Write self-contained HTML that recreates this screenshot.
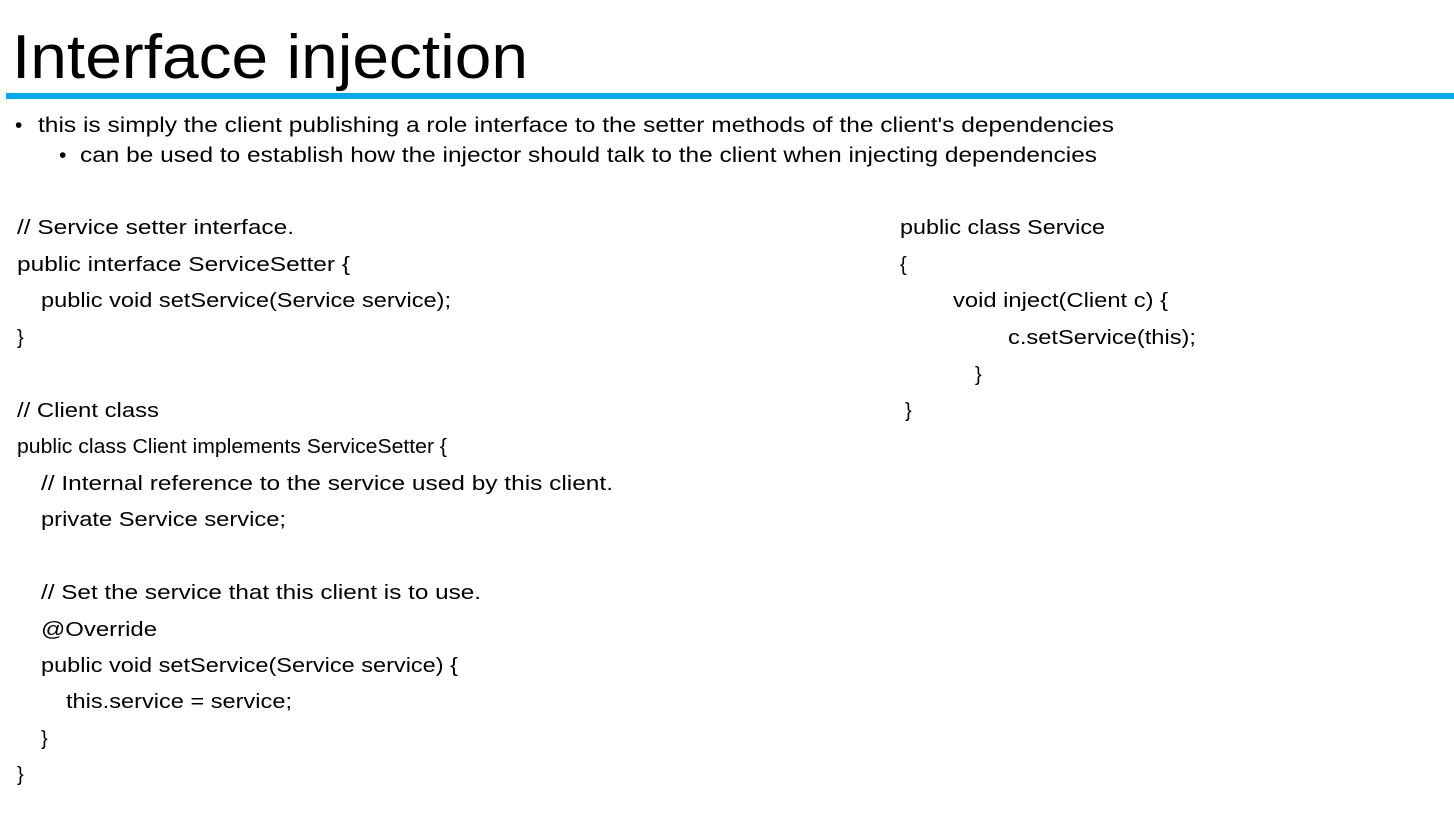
<!DOCTYPE html>
<html><head><meta charset="utf-8"><style>
html,body{margin:0;padding:0;background:#fff;width:1454px;height:817px;overflow:hidden}
text{font-family:"Liberation Sans",sans-serif;fill:#000}
</style></head><body>
<svg width="1454" height="817" viewBox="0 0 1454 817" xmlns="http://www.w3.org/2000/svg">
<text x="12" y="78" font-size="62" textLength="516" lengthAdjust="spacingAndGlyphs">Interface injection</text>
<rect x="6" y="93" width="1448" height="6" fill="#0aa8e8"/>
<g font-size="21">
<text x="15" y="132">•</text>
<text x="38" y="132" textLength="1076" lengthAdjust="spacingAndGlyphs">this is simply the client publishing a role interface to the setter methods of the client's dependencies</text>
<text x="59" y="162">•</text>
<text x="80" y="162" textLength="1017" lengthAdjust="spacingAndGlyphs">can be used to establish how the injector should talk to the client when injecting dependencies</text>
</g>
<g font-size="20" lengthAdjust="spacingAndGlyphs">
<text x="17" y="234" textLength="277" lengthAdjust="spacingAndGlyphs">// Service setter interface.</text>
<text x="17" y="271" textLength="333" lengthAdjust="spacingAndGlyphs">public interface ServiceSetter {</text>
<text x="41" y="307" textLength="410" lengthAdjust="spacingAndGlyphs">public void setService(Service service);</text>
<text x="17" y="344">}</text>
<text x="17" y="417" textLength="142" lengthAdjust="spacingAndGlyphs">// Client class</text>
<text x="17" y="453" textLength="430" lengthAdjust="spacingAndGlyphs">public class Client implements ServiceSetter {</text>
<text x="41" y="490" textLength="572" lengthAdjust="spacingAndGlyphs">// Internal reference to the service used by this client.</text>
<text x="41" y="526" textLength="245" lengthAdjust="spacingAndGlyphs">private Service service;</text>
<text x="41" y="599" textLength="440" lengthAdjust="spacingAndGlyphs">// Set the service that this client is to use.</text>
<text x="41" y="636" textLength="116" lengthAdjust="spacingAndGlyphs">@Override</text>
<text x="41" y="672" textLength="417" lengthAdjust="spacingAndGlyphs">public void setService(Service service) {</text>
<text x="66" y="708" textLength="226" lengthAdjust="spacingAndGlyphs">this.service = service;</text>
<text x="41" y="745">}</text>
<text x="17" y="781">}</text>
<text x="900" y="234" textLength="205" lengthAdjust="spacingAndGlyphs">public class Service</text>
<text x="900" y="271">{</text>
<text x="953" y="307" textLength="215" lengthAdjust="spacingAndGlyphs">void inject(Client c) {</text>
<text x="1008" y="344" textLength="188" lengthAdjust="spacingAndGlyphs">c.setService(this);</text>
<text x="975" y="381">}</text>
<text x="905" y="417">}</text>
</g>
</svg>
</body></html>
